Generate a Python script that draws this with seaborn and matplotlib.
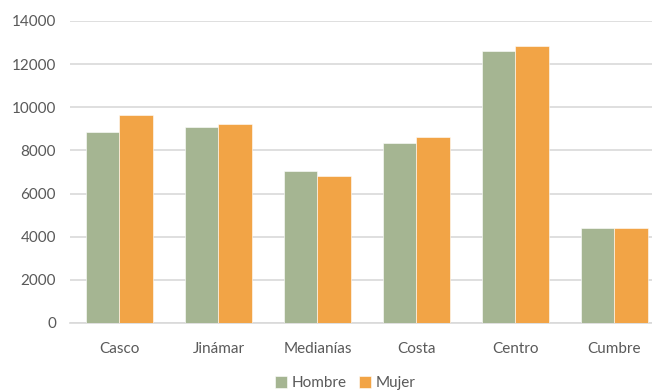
import seaborn as sns
import matplotlib.pyplot as plt
import pandas as pd

# Datos
zonas = ['Casco', 'Jinámar', 'Medianías', 'Costa', 'Centro', 'Cumbre']
hombre = [8860, 9075, 7040, 8365, 12595, 4415]
mujer = [9630, 9240, 6835, 8610, 12850, 4410]
sexos = ['Hombre', 'Mujer']
colores = ['#A5B592', '#F2A446']
yticks = [0, 2000, 4000, 6000, 8000, 10000, 12000, 14000]

df = pd.DataFrame({
    'zona': zonas * 2,
    'sexo': ['Hombre'] * len(zonas) + ['Mujer'] * len(zonas),
    'valor': hombre + mujer,
})

sns.set_style('white')
plt.rcParams['font.family'] = ['Lato', 'DejaVu Sans']

fig = plt.figure(figsize=(6.52, 3.91), dpi=100)
ax = fig.add_axes([70 / 652, 68 / 391, 582 / 652, 302 / 391])

sns.barplot(data=df, x='zona', y='valor', hue='sexo', hue_order=sexos,
            palette=colores, saturation=1, width=0.67, gap=0, errorbar=None,
            edgecolor='white', linewidth=0.4, ax=ax, zorder=3)

ax.set_ylim(0, 14000)
ax.set_xlim(-0.5, 5.38)
ax.set_yticks(yticks)
ax.set_yticklabels([str(v) for v in yticks])
ax.grid(axis='y', color='#d9d9d9', linewidth=1.2, zorder=0)
ax.set_axisbelow(True)
for s in ['top', 'right', 'left']:
    ax.spines[s].set_visible(False)
ax.spines['bottom'].set_color('#d9d9d9')
ax.spines['bottom'].set_linewidth(1.2)
ax.tick_params(axis='both', length=0, labelsize=11, colors='#595959')
ax.tick_params(axis='x', pad=14)
ax.tick_params(axis='y', pad=10)
ax.set_xlabel('')
ax.set_ylabel('')

ax.legend(loc='center', bbox_to_anchor=(345 / 652, 8 / 391),
          bbox_transform=fig.transFigure, ncol=2, frameon=False,
          fontsize=11, labelcolor='#595959', handlelength=0.8,
          handleheight=0.8, handletextpad=0.3, columnspacing=0.8)

fig.savefig('out.png', dpi=100)
